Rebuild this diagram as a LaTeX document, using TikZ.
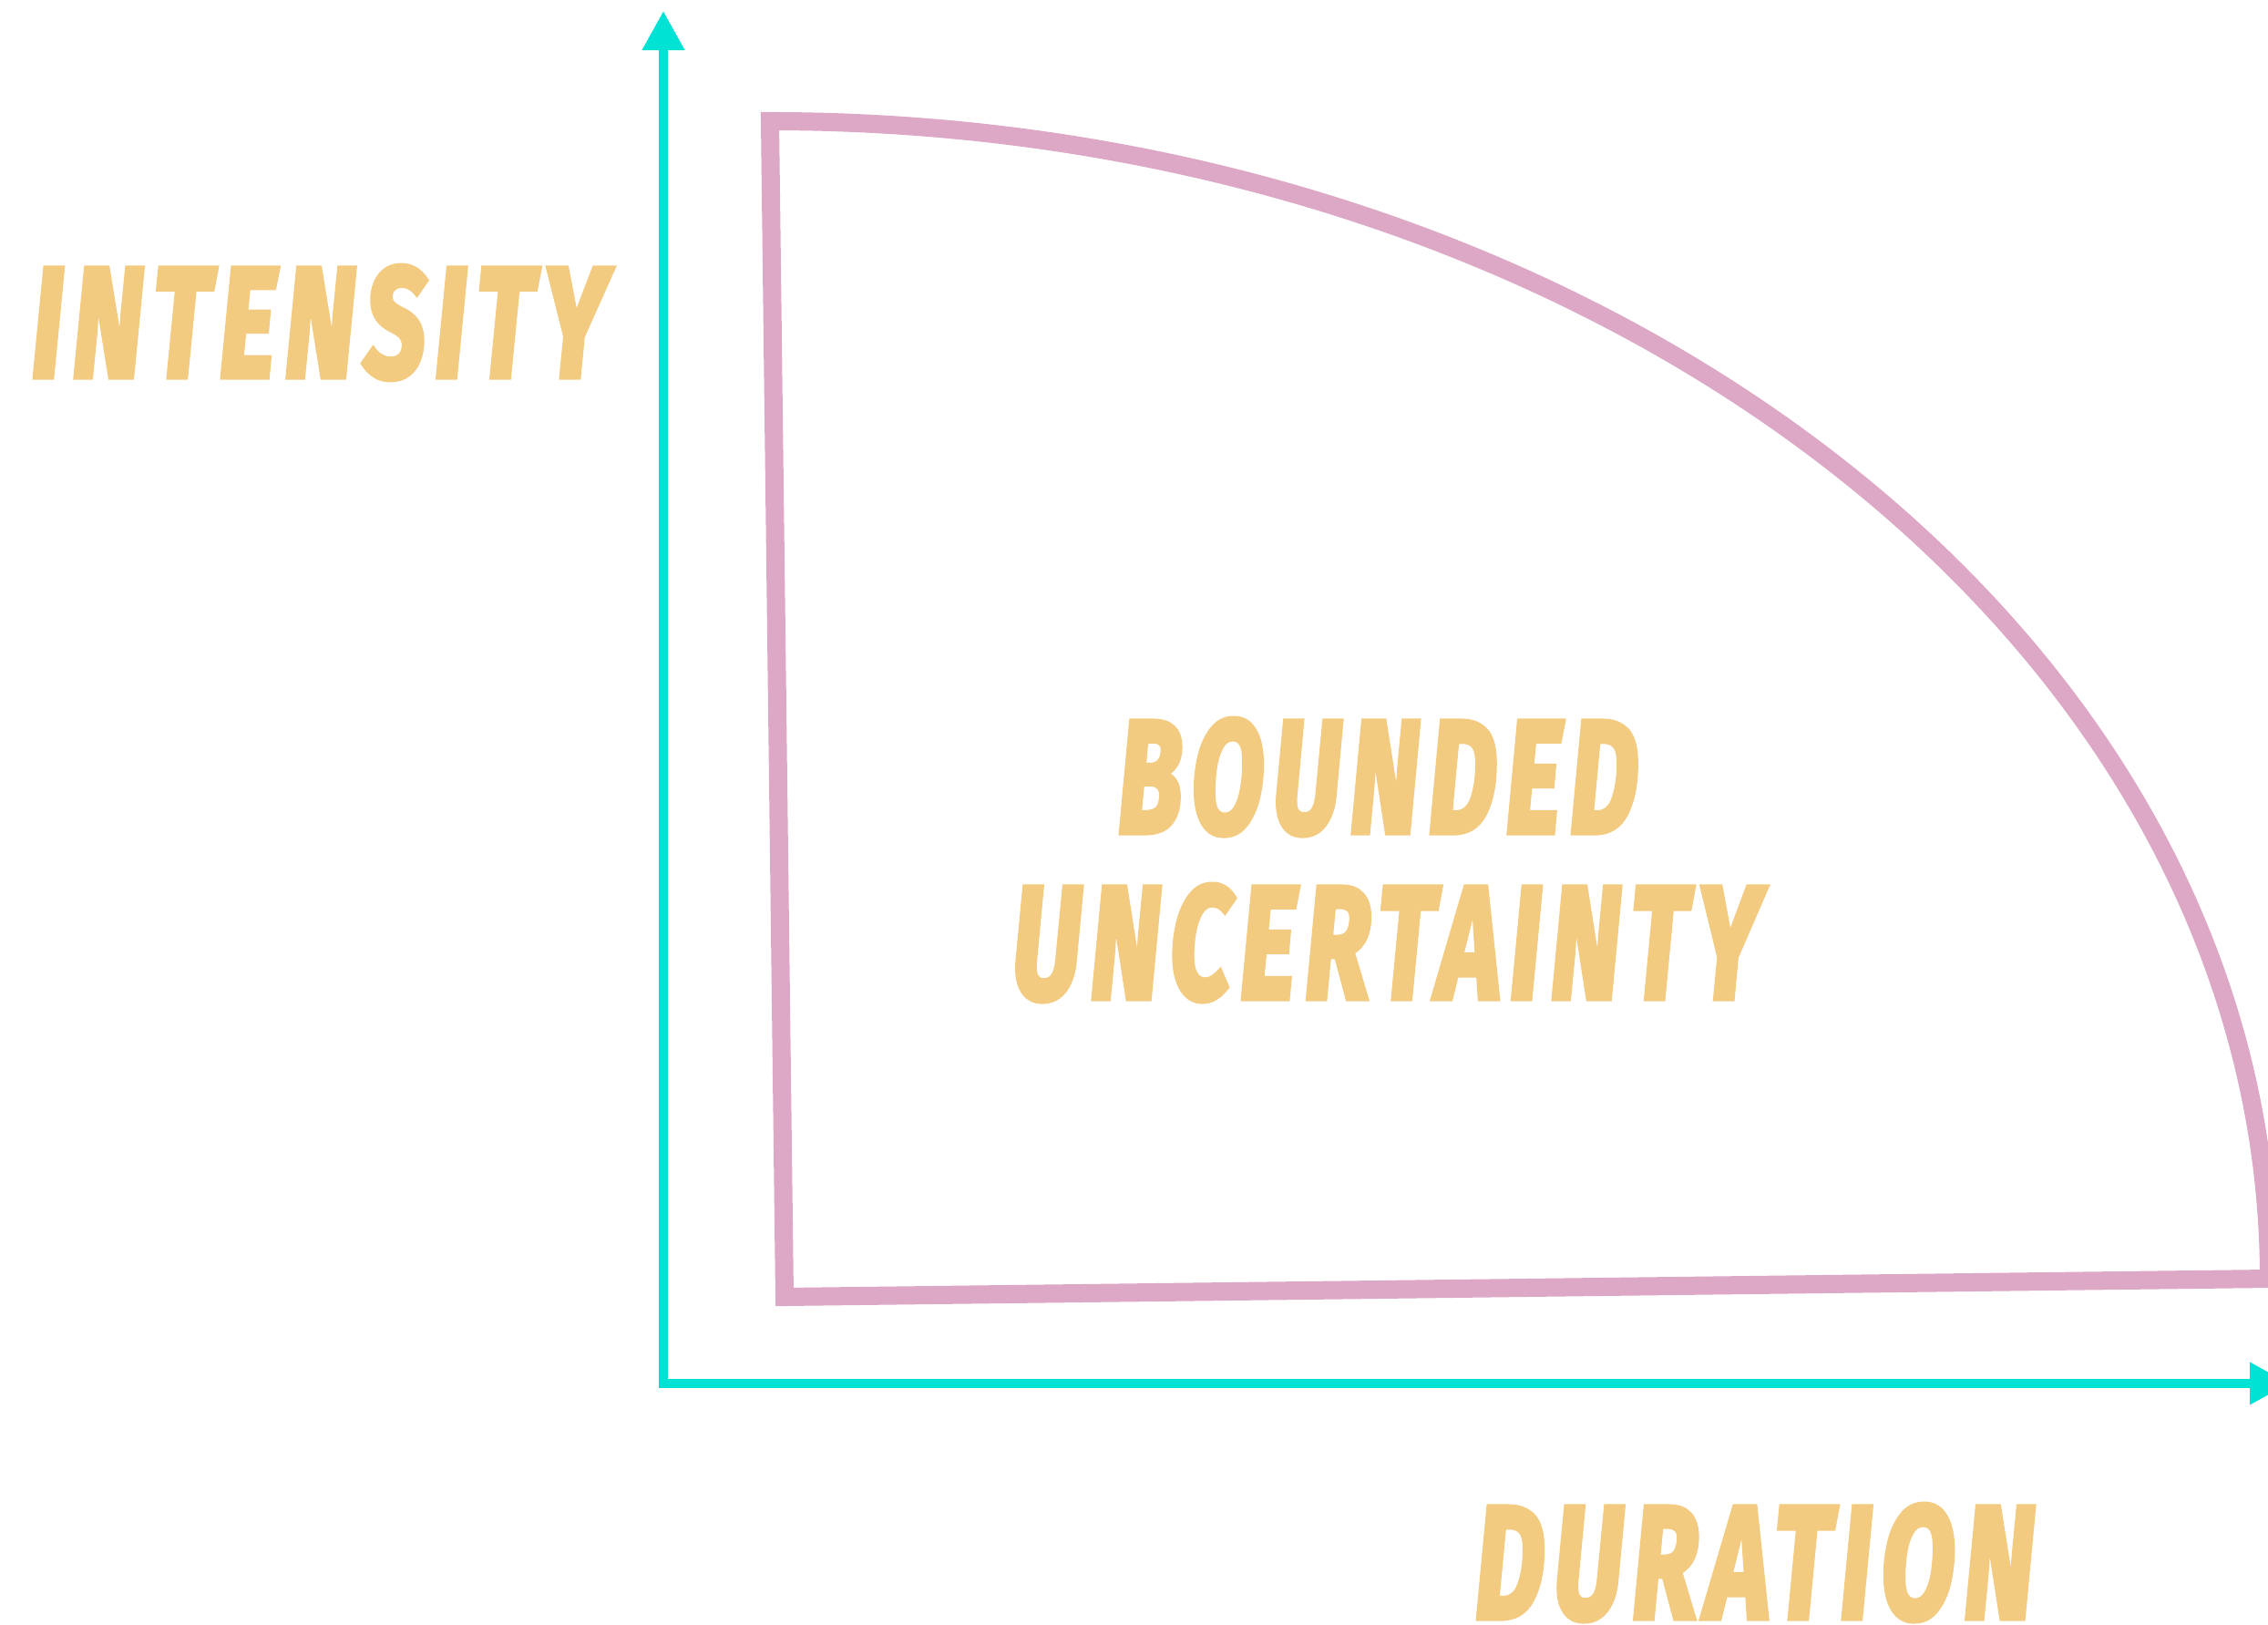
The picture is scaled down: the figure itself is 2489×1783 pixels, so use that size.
\documentclass[tikz,border=0pt]{standalone}
\usepackage{fontspec}
\setmainfont{Fira Sans}
\newfontfamily\labfont{Fira Sans}[LetterSpace=9,FakeBold=4]
\usetikzlibrary{arrows.meta}
\definecolor{axiscyan}{RGB}{0,226,212}
\definecolor{boundpink}{RGB}{220,168,198}
\definecolor{labyellow}{RGB}{242,203,128}
\newcommand\fitlab[3]{\resizebox{#1}{#2}{\labfont\bfseries\itshape #3}}
\begin{document}
\begin{tikzpicture}[x=0.01cm,y=-0.01cm,
  axisline/.style={draw=axiscyan,line width=0.1cm,line join=miter,
    {Triangle[length=0.43cm,width=0.44cm,fill=axiscyan]}-{Triangle[length=0.43cm,width=0.44cm,fill=axiscyan]}},
  boundline/.style={draw=boundpink,line width=0.2cm,line join=miter,miter limit=20},
  lab/.style={text=labyellow,inner sep=0pt,outer sep=0pt,anchor=north west}]
\useasboundingbox (0,0) rectangle (2489,1783);
\clip (0,0) rectangle (2489,1783);
\coordinate (ytip) at (728,12);
\coordinate (origin) at (728,1518);
\coordinate (xtip) at (2512,1518);
\coordinate (btop) at (845,133);
\coordinate (bcorner) at (861,1423);
\draw[axisline] (ytip) -- (origin) -- (xtip);
\draw[boundline] (btop) arc[start angle=270,end angle=360,x radius=1645,y radius=1270] -- (bcorner) -- cycle;
\node[lab] (intensity) at (35,292) {\fitlab{6.29cm}{1.21cm}{INTENSITY}};
\node[lab] (bounded) at (1227,789) {\fitlab{5.70cm}{1.24cm}{BOUNDED}};
\node[lab] (uncert) at (1111,971) {\fitlab{8.19cm}{1.24cm}{UNCERTAINTY}};
\node[lab] (duration) at (1619,1651) {\fitlab{6.13cm}{1.24cm}{DURATION}};
\end{tikzpicture}
\end{document}
